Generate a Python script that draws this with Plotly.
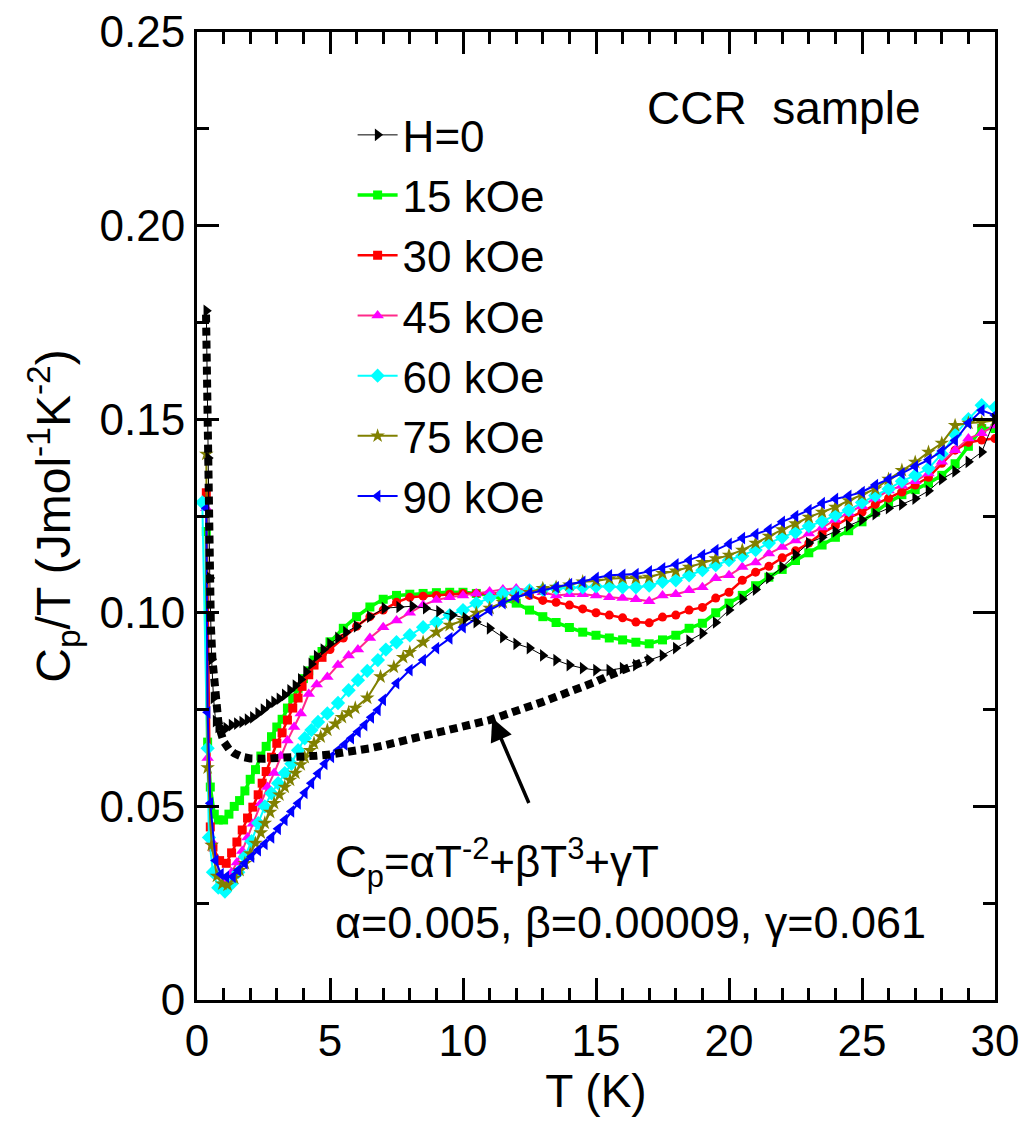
import plotly.graph_objects as go

# ---------------- data ----------------
T_h0 = [0.35, 0.42, 0.48, 0.55, 0.62, 0.70, 0.80, 0.95, 1.10, 1.30, 1.50, 1.70, 1.90, 2.10, 2.30, 2.50,
        2.70, 2.90, 3.10, 3.30, 3.50, 3.70, 3.90, 4.10, 4.30, 4.50, 4.75, 5.00, 5.30, 5.60, 6.00, 6.50,
        7.05, 7.60, 8.10, 8.60, 9.10, 9.60, 10.1, 10.5, 11.0, 11.5, 12.0, 12.5, 13.0, 13.5, 14.0, 14.5,
        15.0, 15.5, 16.0, 16.5, 17.0, 17.5, 18.0, 18.5, 19.0, 19.5, 20.0, 20.5, 21.0, 21.5, 22.0, 22.5,
        23.0, 23.5, 24.0, 24.5, 25.0, 25.5, 26.0, 26.5, 27.0, 27.5, 28.0, 28.5, 29.0, 29.5, 30.0]
C_h0 = [0.178, 0.140, 0.109, 0.088, 0.078, 0.072, 0.0705, 0.0700, 0.0702, 0.0710, 0.0714, 0.0718, 0.0724,
        0.0730, 0.0740, 0.0750, 0.0762, 0.0770, 0.0778, 0.0788, 0.0800, 0.0812, 0.0828, 0.0848, 0.0868,
        0.0888, 0.0905, 0.0920, 0.0935, 0.0950, 0.0965, 0.0990, 0.1012, 0.1015, 0.1017, 0.1012, 0.1004,
        0.0994, 0.0986, 0.0976, 0.0960, 0.0937, 0.0920, 0.0909, 0.0890, 0.0878, 0.0865, 0.0857, 0.0852,
        0.0852, 0.0857, 0.0865, 0.0878, 0.0890, 0.0909, 0.0928, 0.0947, 0.0975, 0.1007, 0.1035, 0.1060,
        0.1090, 0.1118, 0.1150, 0.1180, 0.1195, 0.1210, 0.1225, 0.1240, 0.1255, 0.1270, 0.1280, 0.1295,
        0.1315, 0.1345, 0.1365, 0.1390, 0.1415, 0.1500]

T_15 = [0.35, 0.40, 0.50, 0.65, 0.80, 1.00, 1.20, 1.40, 1.60, 1.80, 2.00, 2.20, 2.40, 2.60, 2.80, 3.00,
        3.20, 3.40, 3.60, 3.80, 4.00, 4.20, 4.40, 4.70, 5.00, 5.50, 6.00, 6.50, 7.00, 7.50, 8.00, 8.50,
        9.00, 9.50, 10.0, 10.5, 11.0, 11.5, 12.0, 12.5, 13.0, 13.5, 14.0, 14.5, 15.0, 15.5, 16.0, 16.5,
        17.0, 17.5, 18.0, 18.5, 19.0, 19.5, 20.0, 20.5, 21.0, 21.5, 22.0, 22.5, 23.0, 23.5, 24.0, 24.5,
        25.0, 25.5, 26.0, 26.5, 27.0, 27.5, 28.0, 28.5, 29.0, 29.5, 30.0]
C_15 = [0.121, 0.0666, 0.055, 0.048, 0.0465, 0.0465, 0.0480, 0.0500, 0.0515, 0.0540, 0.0570, 0.0595,
        0.0630, 0.0655, 0.0680, 0.0705, 0.0725, 0.0754, 0.0780, 0.0805, 0.0830, 0.0850, 0.0878, 0.0900,
        0.0925, 0.0960, 0.0990, 0.1015, 0.1035, 0.1045, 0.1048, 0.1050, 0.1052, 0.1053, 0.1053, 0.1050,
        0.1045, 0.1035, 0.1025, 0.1007, 0.0990, 0.0975, 0.0962, 0.0950, 0.0942, 0.0935, 0.0930, 0.0924,
        0.0920, 0.0930, 0.0942, 0.0960, 0.0973, 0.1000, 0.1025, 0.1045, 0.1070, 0.1092, 0.1112, 0.1135,
        0.1155, 0.1175, 0.1195, 0.1212, 0.1235, 0.1260, 0.1285, 0.1305, 0.1318, 0.1335, 0.1355, 0.1385,
        0.1430, 0.1476, 0.1476]

T_30 = [0.35, 0.50, 0.60, 0.85, 1.10, 1.30, 1.50, 1.70, 1.90, 2.10, 2.30, 2.45, 2.60, 2.80, 3.00, 3.20,
        3.40, 3.60, 3.80, 3.95, 4.20, 4.40, 4.70, 5.00, 5.50, 6.00, 6.50, 7.00, 7.50, 8.00, 8.50, 9.00,
        9.50, 10.0, 10.5, 11.0, 11.5, 12.0, 12.5, 13.0, 13.5, 14.0, 14.5, 15.0, 15.5, 16.0, 16.5, 17.0,
        17.5, 18.0, 18.5, 19.0, 19.5, 20.0, 20.5, 21.0, 21.5, 22.0, 22.5, 23.0, 23.5, 24.0, 24.5, 25.0,
        25.5, 26.0, 26.5, 27.0, 27.5, 28.0, 28.5, 29.0, 29.5, 30.0]
C_30 = [0.131, 0.0447, 0.0395, 0.0360, 0.0353, 0.0380, 0.0408, 0.0439, 0.0470, 0.0498, 0.0530, 0.0560,
        0.0590, 0.0627, 0.0663, 0.0690, 0.0723, 0.0754, 0.0780, 0.0810, 0.0840, 0.0865, 0.0885, 0.0905,
        0.0935, 0.0965, 0.0990, 0.1007, 0.1027, 0.1040, 0.1043, 0.1045, 0.1048, 0.1050, 0.1050, 0.1050,
        0.1050, 0.1050, 0.1045, 0.1032, 0.1027, 0.1020, 0.1010, 0.1000, 0.0994, 0.0987, 0.0976, 0.0974,
        0.0989, 0.0994, 0.1007, 0.1014, 0.1038, 0.1053, 0.1084, 0.1105, 0.1120, 0.1142, 0.1160, 0.1180,
        0.1205, 0.1225, 0.1245, 0.1260, 0.1280, 0.1296, 0.1312, 0.1330, 0.1350, 0.1386, 0.1420, 0.1440,
        0.1446, 0.1450]
N_30_SQUARES = 23  # low-T part of the 30 kOe run is drawn with squares

T_45 = [0.35, 0.40, 0.55, 0.85, 1.10, 1.30, 1.50, 1.70, 1.90, 2.10, 2.40, 2.65, 2.90, 3.15, 3.40, 3.65,
        3.90, 4.20, 4.50, 4.90, 5.30, 5.70, 6.05, 6.50, 7.00, 7.50, 8.00, 8.50, 9.00, 9.50, 10.0, 10.5,
        11.0, 11.5, 12.0, 12.5, 13.0, 13.5, 14.0, 14.5, 15.0, 15.5, 16.0, 16.5, 17.0, 17.5, 18.0, 18.5,
        19.0, 19.5, 20.0, 20.5, 21.0, 21.5, 22.0, 22.5, 23.0, 23.5, 24.0, 24.5, 25.0, 25.5, 26.0, 26.5,
        27.0, 27.5, 28.0, 28.5, 29.0, 29.5, 30.0]
C_45 = [0.127, 0.0625, 0.041, 0.032, 0.0310, 0.0330, 0.0355, 0.0385, 0.0420, 0.0455, 0.0508, 0.0550,
        0.0586, 0.0630, 0.0670, 0.0705, 0.0740, 0.0790, 0.0815, 0.0834, 0.0865, 0.0890, 0.0905, 0.0935,
        0.0963, 0.0980, 0.1000, 0.1020, 0.1033, 0.1040, 0.1045, 0.1050, 0.1055, 0.1060, 0.1063, 0.1058,
        0.1053, 0.1045, 0.1048, 0.1048, 0.1045, 0.1040, 0.1038, 0.1035, 0.1030, 0.1045, 0.1048, 0.1058,
        0.1066, 0.1089, 0.1097, 0.1118, 0.1130, 0.1153, 0.1170, 0.1187, 0.1205, 0.1220, 0.1240, 0.1258,
        0.1275, 0.1295, 0.1316, 0.1328, 0.1340, 0.1360, 0.1390, 0.1420, 0.1450, 0.1464, 0.1484]

T_60 = [0.20, 0.40, 0.45, 0.60, 0.80, 1.05, 1.30, 1.55, 1.80, 2.05, 2.30, 2.55, 2.80, 3.05, 3.30, 3.55,
        3.80, 4.05, 4.30, 4.55, 4.90, 5.30, 5.70, 6.05, 6.40, 6.80, 7.10, 7.50, 8.00, 8.50, 9.00, 9.50,
        10.0, 10.5, 11.0, 11.5, 12.0, 12.5, 13.0, 13.5, 14.0, 14.5, 15.0, 15.5, 16.0, 16.5, 17.0, 17.5,
        18.0, 18.5, 19.0, 19.5, 20.0, 20.5, 21.0, 21.5, 22.0, 22.5, 23.0, 23.5, 24.0, 24.5, 25.0, 25.5,
        26.0, 26.5, 27.0, 27.5, 28.0, 28.5, 29.0, 29.5, 30.0]
C_60 = [0.1285, 0.065, 0.042, 0.033, 0.029, 0.028, 0.030, 0.033, 0.037, 0.041, 0.0457, 0.0500, 0.0534,
        0.0560, 0.0586, 0.0610, 0.0645, 0.0676, 0.0697, 0.0718, 0.0740, 0.0767, 0.0800, 0.0826, 0.0850,
        0.0878, 0.0905, 0.0924, 0.0942, 0.0963, 0.0976, 0.0994, 0.1007, 0.1025, 0.1038, 0.1050, 0.1053,
        0.1058, 0.1060, 0.1063, 0.1065, 0.1066, 0.1068, 0.1068, 0.1066, 0.1066, 0.1070, 0.1080, 0.1084,
        0.1097, 0.1110, 0.1123, 0.1136, 0.1147, 0.1162, 0.1180, 0.1195, 0.1208, 0.1224, 0.1236, 0.1252,
        0.1265, 0.1285, 0.1303, 0.1320, 0.1340, 0.1355, 0.1373, 0.1410, 0.1460, 0.1500, 0.1536, 0.1530]

T_75 = [0.35, 0.40, 0.55, 0.75, 0.95, 1.15, 1.40, 1.60, 1.80, 2.00, 2.20, 2.40, 2.55, 2.75, 2.90, 3.10,
        3.30, 3.50, 3.70, 3.90, 4.05, 4.25, 4.40, 4.65, 4.90, 5.20, 5.45, 5.70, 5.95, 6.40, 6.90, 7.40,
        7.75, 8.00, 8.50, 9.00, 9.50, 10.0, 10.5, 11.0, 11.5, 12.0, 12.5, 13.0, 13.5, 14.0, 14.5, 15.0,
        15.5, 16.0, 16.5, 17.0, 17.5, 18.0, 18.5, 19.0, 19.5, 20.0, 20.5, 21.0, 21.5, 22.0, 22.5, 23.0,
        23.5, 24.0, 24.5, 25.0, 25.5, 26.0, 26.5, 27.0, 27.5, 28.0, 28.5, 29.0, 29.5, 30.0]
C_75 = [0.141, 0.060, 0.040, 0.032, 0.0300, 0.0297, 0.0315, 0.0335, 0.0353, 0.0378, 0.0405, 0.0432,
        0.0457, 0.0485, 0.0508, 0.0530, 0.0550, 0.0568, 0.0586, 0.0608, 0.0627, 0.0645, 0.0663, 0.0680,
        0.0697, 0.0713, 0.0730, 0.0742, 0.0754, 0.0780, 0.0835, 0.0860, 0.0885, 0.0898, 0.0924, 0.0950,
        0.0968, 0.0980, 0.0999, 0.1012, 0.1027, 0.1040, 0.1053, 0.1063, 0.1066, 0.1072, 0.1080, 0.1082,
        0.1088, 0.1090, 0.1090, 0.1092, 0.1102, 0.1108, 0.1118, 0.1130, 0.1140, 0.1149, 0.1162, 0.1180,
        0.1198, 0.1215, 0.1230, 0.1247, 0.1260, 0.1273, 0.1290, 0.1305, 0.1320, 0.1345, 0.1368, 0.1389,
        0.1415, 0.1438, 0.1484, 0.1490, 0.1492, 0.1497]

T_90 = [0.35, 0.40, 0.50, 0.70, 0.90, 1.10, 1.35, 1.55, 1.80, 2.05, 2.30, 2.55, 2.80, 3.05, 3.30, 3.55,
        3.80, 4.05, 4.30, 4.55, 4.80, 5.05, 5.30, 5.55, 5.80, 6.05, 6.30, 6.55, 6.80, 7.00, 7.50, 8.00,
        8.50, 9.00, 9.50, 10.0, 10.5, 11.0, 11.5, 12.0, 12.5, 13.0, 13.5, 14.0, 14.5, 15.0, 15.5, 16.0,
        16.5, 17.0, 17.5, 18.0, 18.5, 19.0, 19.5, 20.0, 20.5, 21.0, 21.5, 22.0, 22.5, 23.0, 23.5, 24.0,
        24.5, 25.0, 25.5, 26.0, 26.5, 27.0, 27.5, 28.0, 28.5, 29.0, 29.5, 30.0]
C_90 = [0.127, 0.0743, 0.0508, 0.0360, 0.0325, 0.0318, 0.0318, 0.0335, 0.0353, 0.0370, 0.0387, 0.0403,
        0.0420, 0.0442, 0.0465, 0.0487, 0.0508, 0.0535, 0.0560, 0.0585, 0.0610, 0.0628, 0.0645, 0.0660,
        0.0676, 0.0693, 0.0710, 0.0730, 0.0749, 0.0775, 0.0818, 0.0852, 0.0878, 0.0909, 0.0934, 0.0963,
        0.0986, 0.1007, 0.1025, 0.1040, 0.1050, 0.1058, 0.1066, 0.1074, 0.1080, 0.1090, 0.1097, 0.1098,
        0.1100, 0.1107, 0.1115, 0.1125, 0.1136, 0.1149, 0.1162, 0.1178, 0.1193, 0.1203, 0.1215, 0.1235,
        0.1250, 0.1265, 0.1283, 0.1294, 0.1302, 0.1312, 0.1330, 0.1345, 0.1360, 0.1378, 0.1395, 0.1418,
        0.1445, 0.1490, 0.1523, 0.1510]

# dotted fit curve
T_fit = [0.34, 0.38, 0.42, 0.47, 0.52, 0.58, 0.65, 0.72, 0.80, 0.90, 1.0, 1.2, 1.4, 1.7, 2.0, 2.5, 3.0,
         3.5, 4.0, 4.5, 5.0, 5.5, 6.0, 6.5, 7.0, 7.5, 8.0, 8.5, 9.0, 9.5, 10.0, 10.5, 11.0, 11.5, 12.0,
         12.5, 13.0, 13.5, 14.0, 14.5, 15.0, 15.5, 16.0, 16.5, 17.0]
C_fit = [0.177, 0.150, 0.128, 0.110, 0.097, 0.088, 0.081, 0.076, 0.072, 0.069, 0.0668, 0.0648, 0.0637,
         0.0628, 0.0624, 0.0623, 0.0624, 0.0626, 0.0628, 0.0631, 0.0634, 0.0638, 0.0643, 0.0650, 0.0657,
         0.0665, 0.0673, 0.0683, 0.0693, 0.0700, 0.0705, 0.0713, 0.0723, 0.0735, 0.0745, 0.0757, 0.0770,
         0.0783, 0.0795, 0.0808, 0.0822, 0.0838, 0.0853, 0.0866, 0.0880]

FONT = "Arial, Liberation Sans, Helvetica, sans-serif"

fig = go.Figure()

red_symbols = ["square"] * N_30_SQUARES + ["circle"] * (len(T_30) - N_30_SQUARES)

series = [
    # name, x, y, line color, marker color, symbol, line width, marker size, rank
    ("15 kOe", T_15, C_15, "#00FF00", "#00FF00", "square", 3.5, 9, 2),
    ("30 kOe", T_30, C_30, "#FF0000", "#FF0000", red_symbols, 2.5, 9, 3),
    ("45 kOe", T_45, C_45, "#FF2A8A", "#FF00FF", "triangle-up", 2, 11, 4),
    ("60 kOe", T_60, C_60, "#00FFFF", "#00FFFF", "diamond", 2, 11, 5),
    ("75 kOe", T_75, C_75, "#808000", "#808000", "star", 2, 11, 6),
    ("90 kOe", T_90, C_90, "#0000FF", "#0000FF", "triangle-left", 2, 11, 7),
    ("H=0", T_h0, C_h0, "#000000", "#000000", "triangle-right", 1, 11, 1),
]
for name, xs, ys, lc, mc, sym, lw, ms, rank in series:
    fig.add_trace(go.Scatter(
        x=xs, y=ys, name=name, mode="lines+markers", legendrank=rank,
        line=dict(color=lc, width=lw),
        marker=dict(color=mc, symbol=sym, size=ms, line=dict(width=0)),
    ))

fig.add_trace(go.Scatter(
    x=T_fit, y=C_fit, mode="lines", showlegend=False,
    line=dict(color="black", width=8, dash="8px,5px"),
))

axis_common = dict(
    showline=True, linecolor="black", linewidth=3, mirror="allticks",
    ticks="inside", ticklen=22, tickwidth=2.5, tickcolor="black",
    showgrid=False, zeroline=False,
    tickfont=dict(family=FONT, size=44, color="black"),
)

fig.update_xaxes(
    range=[0, 30], tick0=0, dtick=5,
    minor=dict(dtick=1, ticks="inside", ticklen=12, tickwidth=2.5, tickcolor="black", showgrid=False),
    title=dict(text="T (K)", font=dict(family=FONT, size=46, color="black"), standoff=8),
    **axis_common,
)
fig.update_yaxes(
    range=[0, 0.25], tick0=0, dtick=0.05, tickformat=".2f", labelalias={"0.00": "0"},
    minor=dict(dtick=0.025, ticks="inside", ticklen=12, tickwidth=2.5, tickcolor="black", showgrid=False),
    title=dict(text="C<sub>p</sub>/T (Jmol<sup>-1</sup>K<sup>-2</sup>)",
               font=dict(family=FONT, size=48, color="black"), standoff=14),
    **axis_common,
)

fig.add_annotation(x=16.85, y=0.2303, xref="x", yref="y", text="CCR\u00a0\u00a0sample", showarrow=False,
                   xanchor="left", yanchor="middle", font=dict(family=FONT, size=46, color="black"))
fig.add_annotation(x=5.1, y=0.0356, xref="x", yref="y",
                   text="C<sub>p</sub>=αT<sup>-2</sup>+βT<sup>3</sup>+γT", showarrow=False,
                   xanchor="left", yanchor="middle", font=dict(family=FONT, size=44, color="black"))
fig.add_annotation(x=5.1, y=0.0201, xref="x", yref="y",
                   text="α=0.005, β=0.00009, γ=0.061", showarrow=False,
                   xanchor="left", yanchor="middle", font=dict(family=FONT, size=45, color="black"))
# arrow pointing at the fit curve
fig.add_annotation(x=11.1, y=0.0728, ax=12.5, ay=0.0505, xref="x", yref="y", axref="x", ayref="y",
                   text="", showarrow=True, arrowhead=2, arrowsize=1.3, arrowwidth=3.5, arrowcolor="black")

fig.update_layout(
    width=1024, height=1126,
    margin=dict(l=197, r=29, t=32, b=126, autoexpand=False),
    paper_bgcolor="white", plot_bgcolor="white",
    showlegend=True,
    legend=dict(x=0.195, y=0.93, xanchor="left", yanchor="top", bgcolor="rgba(0,0,0,0)",
                font=dict(family=FONT, size=44, color="black"), itemwidth=40),
)

fig.write_html("out.html")
